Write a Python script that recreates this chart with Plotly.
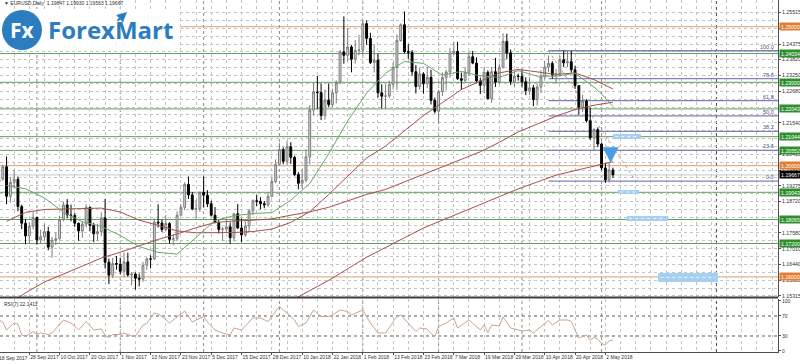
import plotly.graph_objects as go
import pandas as pd

# ---------------- data ----------------
holidays = ["2017-12-25", "2018-01-01"]
dates = [d.strftime("%Y-%m-%d") for d in pd.bdate_range("2017-09-14", "2018-05-04")
         if d.strftime("%Y-%m-%d") not in holidays]

opens = [1.1885, 1.1922, 1.1942, 1.1952, 1.1996, 1.1890, 1.1940, 1.1951, 1.1853, 1.1793,
         1.1747, 1.1783, 1.1814, 1.1733, 1.1744, 1.1763, 1.1707, 1.1732, 1.1737, 1.1807,
         1.1859, 1.1823, 1.1821, 1.1793, 1.1765, 1.1790, 1.1850, 1.1785, 1.1755, 1.1763,
         1.1812, 1.1653, 1.1606, 1.1648, 1.1646, 1.1620, 1.1654, 1.1607, 1.1610, 1.1595,
         1.1592, 1.1642, 1.1665, 1.1664, 1.1797, 1.1794, 1.1770, 1.1792, 1.1735, 1.1737,
         1.1822, 1.1850, 1.1933, 1.1895, 1.1844, 1.1845, 1.1904, 1.1894, 1.1863, 1.1822,
         1.1795, 1.1771, 1.1772, 1.1780, 1.1741, 1.1827, 1.1776, 1.1751, 1.1783, 1.1837,
         1.1874, 1.1872, 1.1863, 1.1859, 1.1890, 1.1943, 1.2005, 1.2058, 1.2016, 1.2068,
         1.2030, 1.1968, 1.1937, 1.1948, 1.2032, 1.2200, 1.2265, 1.2263, 1.2180, 1.2236,
         1.2220, 1.2262, 1.2299, 1.2409, 1.2397, 1.2427, 1.2383, 1.2414, 1.2416, 1.2511,
         1.2458, 1.2371, 1.2380, 1.2262, 1.2250, 1.2251, 1.2293, 1.2353, 1.2450, 1.2507,
         1.2410, 1.2408, 1.2338, 1.2285, 1.2330, 1.2295, 1.2318, 1.2235, 1.2196, 1.2266,
         1.2317, 1.2337, 1.2405, 1.2411, 1.2313, 1.2307, 1.2336, 1.2392, 1.2369, 1.2305,
         1.2289, 1.2336, 1.2241, 1.2338, 1.2301, 1.2354, 1.2447, 1.2406, 1.2303, 1.2322,
         1.2321, 1.2302, 1.2270, 1.2280, 1.2238, 1.2283, 1.2320, 1.2355, 1.2368, 1.2326,
         1.2330, 1.2381, 1.2370, 1.2374, 1.2345, 1.2288, 1.2210, 1.2233, 1.2162, 1.2100,
         1.2130, 1.2078, 1.1992, 1.1949, 1.19847]
highs = [1.1989, 1.1975, 1.1967, 1.2003, 1.2033, 1.1960, 1.1985, 1.1961, 1.1860, 1.1808,
         1.1795, 1.1833, 1.1817, 1.1770, 1.1792, 1.1780, 1.1744, 1.1760, 1.1820, 1.1871,
         1.1880, 1.1860, 1.1830, 1.1795, 1.1800, 1.1861, 1.1853, 1.1795, 1.1791, 1.1832,
         1.1880, 1.1666, 1.1668, 1.1675, 1.1669, 1.1688, 1.1687, 1.1617, 1.1616, 1.1612,
         1.1654, 1.1670, 1.1678, 1.1810, 1.1861, 1.1806, 1.1822, 1.1797, 1.1753, 1.1836,
         1.1861, 1.1940, 1.1961, 1.1905, 1.1877, 1.1907, 1.1961, 1.1912, 1.1874, 1.1851,
         1.1806, 1.1780, 1.1807, 1.1796, 1.1830, 1.1862, 1.1810, 1.1800, 1.1844, 1.1879,
         1.1895, 1.1887, 1.1873, 1.1905, 1.1957, 1.2023, 1.2082, 1.2066, 1.2089, 1.2085,
         1.2036, 1.1977, 1.1989, 1.2058, 1.2218, 1.2297, 1.2323, 1.2296, 1.2274, 1.2296,
         1.2277, 1.2307, 1.2416, 1.2537, 1.2495, 1.2434, 1.2452, 1.2471, 1.2524, 1.2522,
         1.2478, 1.2435, 1.2402, 1.2293, 1.2293, 1.2306, 1.2372, 1.2472, 1.2512, 1.2555,
         1.2437, 1.2416, 1.2362, 1.2353, 1.2336, 1.2355, 1.2345, 1.2245, 1.2273, 1.2336,
         1.2345, 1.2424, 1.2446, 1.2445, 1.2335, 1.2355, 1.2409, 1.2413, 1.2390, 1.2317,
         1.2353, 1.2343, 1.2355, 1.2388, 1.2367, 1.2476, 1.2475, 1.2418, 1.2339, 1.2331,
         1.2345, 1.2318, 1.2318, 1.2291, 1.2295, 1.2343, 1.2376, 1.2396, 1.2376, 1.2348,
         1.2396, 1.2414, 1.2412, 1.2413, 1.2360, 1.2289, 1.2255, 1.2240, 1.2209, 1.2136,
         1.2138, 1.2083, 1.2010, 1.2012, 1.19930]
lows = [1.1838, 1.1880, 1.1922, 1.1946, 1.1861, 1.1867, 1.1919, 1.1836, 1.1772, 1.1717,
        1.1722, 1.1771, 1.1716, 1.1718, 1.1732, 1.1696, 1.1669, 1.1715, 1.1733, 1.1800,
        1.1811, 1.1800, 1.1780, 1.1730, 1.1741, 1.1778, 1.1764, 1.1725, 1.1729, 1.1747,
        1.1630, 1.1574, 1.1596, 1.1626, 1.1609, 1.1600, 1.1601, 1.1569, 1.1554, 1.1566,
        1.1582, 1.1625, 1.1631, 1.1662, 1.1778, 1.1761, 1.1763, 1.1720, 1.1714, 1.1730,
        1.1820, 1.1840, 1.1880, 1.1840, 1.1810, 1.1834, 1.1851, 1.1851, 1.1818, 1.1794,
        1.1756, 1.1729, 1.1762, 1.1718, 1.1728, 1.1773, 1.1725, 1.1744, 1.1762, 1.1822,
        1.1855, 1.1843, 1.1847, 1.1851, 1.1886, 1.1937, 1.2001, 1.2005, 1.2004, 1.2007,
        1.1962, 1.1915, 1.1917, 1.1940, 1.2005, 1.2180, 1.2204, 1.2164, 1.2165, 1.2210,
        1.2210, 1.2224, 1.2293, 1.2367, 1.2376, 1.2336, 1.2367, 1.2397, 1.2397, 1.2435,
        1.2366, 1.2335, 1.2245, 1.2206, 1.2206, 1.2243, 1.2275, 1.2272, 1.2446, 1.2404,
        1.2384, 1.2323, 1.2260, 1.2274, 1.2259, 1.2279, 1.2220, 1.2188, 1.2154, 1.2251,
        1.2272, 1.2316, 1.2397, 1.2308, 1.2274, 1.2298, 1.2322, 1.2365, 1.2300, 1.2258,
        1.2261, 1.2239, 1.2226, 1.2283, 1.2297, 1.2350, 1.2384, 1.2291, 1.2282, 1.2306,
        1.2285, 1.2254, 1.2255, 1.2214, 1.2216, 1.2261, 1.2310, 1.2338, 1.2313, 1.2294,
        1.2320, 1.2355, 1.2354, 1.2334, 1.2276, 1.2183, 1.2193, 1.2155, 1.2093, 1.2055,
        1.2067, 1.1984, 1.1938, 1.1939, 1.19563]
closes = [1.1922, 1.1942, 1.1952, 1.1996, 1.1890, 1.1940, 1.1951, 1.1853, 1.1793, 1.1747,
          1.1783, 1.1814, 1.1733, 1.1744, 1.1763, 1.1707, 1.1732, 1.1737, 1.1807, 1.1859,
          1.1823, 1.1821, 1.1793, 1.1765, 1.1790, 1.1850, 1.1785, 1.1755, 1.1763, 1.1812,
          1.1653, 1.1606, 1.1648, 1.1646, 1.1620, 1.1654, 1.1607, 1.1610, 1.1595, 1.1592,
          1.1642, 1.1665, 1.1664, 1.1797, 1.1794, 1.1770, 1.1792, 1.1735, 1.1737, 1.1822,
          1.1850, 1.1933, 1.1895, 1.1844, 1.1845, 1.1904, 1.1894, 1.1863, 1.1822, 1.1795,
          1.1771, 1.1772, 1.1780, 1.1741, 1.1827, 1.1776, 1.1751, 1.1783, 1.1837, 1.1874,
          1.1872, 1.1863, 1.1859, 1.1890, 1.1943, 1.2005, 1.2058, 1.2016, 1.2068, 1.2030,
          1.1968, 1.1937, 1.1948, 1.2032, 1.2200, 1.2265, 1.2263, 1.2180, 1.2236, 1.2220,
          1.2262, 1.2299, 1.2409, 1.2397, 1.2427, 1.2383, 1.2414, 1.2416, 1.2511, 1.2458,
          1.2371, 1.2380, 1.2262, 1.2250, 1.2251, 1.2293, 1.2353, 1.2450, 1.2507, 1.2410,
          1.2408, 1.2338, 1.2285, 1.2330, 1.2295, 1.2318, 1.2235, 1.2196, 1.2266, 1.2317,
          1.2337, 1.2405, 1.2411, 1.2313, 1.2307, 1.2336, 1.2392, 1.2369, 1.2305, 1.2289,
          1.2336, 1.2241, 1.2338, 1.2301, 1.2354, 1.2447, 1.2406, 1.2303, 1.2322, 1.2321,
          1.2302, 1.2270, 1.2280, 1.2238, 1.2283, 1.2320, 1.2355, 1.2368, 1.2326, 1.2330,
          1.2381, 1.2370, 1.2374, 1.2345, 1.2288, 1.2210, 1.2233, 1.2162, 1.2100, 1.2130,
          1.2078, 1.1992, 1.1949, 1.1985, 1.19667]

# moving averages
ma20_dates = ["2017-09-20", "2017-09-27", "2017-10-04", "2017-10-11", "2017-10-18", "2017-10-25",
              "2017-11-01", "2017-11-08", "2017-11-15", "2017-11-22", "2017-11-29", "2017-12-06",
              "2017-12-13", "2017-12-20", "2017-12-28", "2018-01-05", "2018-01-12", "2018-01-19",
              "2018-01-26", "2018-02-02", "2018-02-09", "2018-02-16", "2018-02-23", "2018-03-02",
              "2018-03-09", "2018-03-16", "2018-03-23", "2018-03-30", "2018-04-06", "2018-04-13",
              "2018-04-20", "2018-04-25", "2018-04-27", "2018-05-01", "2018-05-04"]
ma20_vals = [1.1929, 1.1917, 1.1884, 1.1833, 1.1798, 1.1782, 1.1749, 1.1709, 1.1688, 1.1682,
             1.1742, 1.1803, 1.1820, 1.1828, 1.1831, 1.1876, 1.1936, 1.2043, 1.2161, 1.2261,
             1.2333, 1.2375, 1.2368, 1.2326, 1.2339, 1.2323, 1.2318, 1.2342, 1.2322, 1.2322,
             1.2332, 1.2304, 1.2283, 1.2258, 1.2213]
ma_dates = ["2017-09-20", "2017-09-27", "2017-10-04", "2017-10-11", "2017-10-18", "2017-10-25",
            "2017-11-01", "2017-11-08", "2017-11-15", "2017-11-22", "2017-11-29", "2017-12-06",
            "2017-12-13", "2017-12-20", "2017-12-28", "2018-01-05", "2018-01-12", "2018-01-19",
            "2018-01-26", "2018-02-02", "2018-02-09", "2018-02-16", "2018-02-23", "2018-03-02",
            "2018-03-09", "2018-03-16", "2018-03-23", "2018-03-30", "2018-04-06", "2018-04-13",
            "2018-04-20", "2018-04-27", "2018-05-04"]
ma50_vals = [1.1800, 1.1832, 1.18425, 1.18443, 1.1846, 1.18474, 1.18336, 1.18041, 1.17855, 1.17654,
             1.17587, 1.17586, 1.17596, 1.17632, 1.1772, 1.1796, 1.18344, 1.18965, 1.1961, 1.20277,
             1.20706, 1.21253, 1.21806, 1.22268, 1.22738, 1.2304, 1.23337, 1.23464, 1.2338, 1.23284,
             1.23333, 1.23097, 1.2276]
ma100_vals = [1.14967, 1.15425, 1.15817, 1.16106, 1.16408, 1.16676, 1.1689, 1.17117, 1.17349, 1.17542,
              1.17769, 1.17955, 1.18011, 1.18038, 1.18088, 1.18218, 1.1834, 1.18503, 1.18734, 1.18965,
              1.19147, 1.19419, 1.19701, 1.1995, 1.20228, 1.20501, 1.2084, 1.21215, 1.21496, 1.2178,
              1.2202, 1.22175, 1.22283]
ma200_dates = ["2017-12-20", "2018-01-05", "2018-01-19", "2018-02-02", "2018-02-23", "2018-03-09",
               "2018-03-30", "2018-04-13", "2018-05-04"]
ma200_vals = [1.1455, 1.15137, 1.15876, 1.16706, 1.1776, 1.18318, 1.19166, 1.19661, 1.20147]

# RSI(7)
rsi_dates = ["2017-09-18", "2017-09-19", "2017-09-20", "2017-09-22", "2017-09-25", "2017-09-26",
             "2017-09-27", "2017-09-29", "2017-10-02", "2017-10-03", "2017-10-05", "2017-10-06",
             "2017-10-11", "2017-10-13", "2017-10-17", "2017-10-19", "2017-10-23", "2017-10-25",
             "2017-10-26", "2017-10-27", "2017-10-30", "2017-11-01", "2017-11-02", "2017-11-06",
             "2017-11-07", "2017-11-09", "2017-11-10", "2017-11-14", "2017-11-15", "2017-11-16",
             "2017-11-20", "2017-11-24", "2017-11-28", "2017-12-01", "2017-12-04", "2017-12-06",
             "2017-12-08", "2017-12-12", "2017-12-13", "2017-12-15", "2017-12-20", "2017-12-22",
             "2017-12-27", "2018-01-02", "2018-01-04", "2018-01-08", "2018-01-09", "2018-01-11",
             "2018-01-15", "2018-01-17", "2018-01-19", "2018-01-22", "2018-01-24", "2018-01-26",
             "2018-01-29", "2018-02-01", "2018-02-05", "2018-02-07", "2018-02-09", "2018-02-14",
             "2018-02-15", "2018-02-19", "2018-02-21", "2018-02-22", "2018-02-26", "2018-02-27",
             "2018-02-28", "2018-03-01", "2018-03-05", "2018-03-07", "2018-03-08", "2018-03-13",
             "2018-03-16", "2018-03-19", "2018-03-20", "2018-03-21", "2018-03-23", "2018-03-26",
             "2018-03-28", "2018-03-30", "2018-04-02", "2018-04-04", "2018-04-05", "2018-04-09",
             "2018-04-11", "2018-04-12", "2018-04-16", "2018-04-18", "2018-04-19", "2018-04-23",
             "2018-04-25", "2018-04-26", "2018-04-27", "2018-04-30", "2018-05-01", "2018-05-02",
             "2018-05-03", "2018-05-04"]
rsi_vals = [62, 58, 42, 56, 54, 32, 29, 39, 33, 36, 33, 36,
            62, 56, 42, 59, 42, 44, 31, 27, 33, 33, 36, 30,
            30, 52, 55, 76, 74, 69, 56, 80, 58, 69, 58, 42,
            36, 32, 46, 42, 66, 66, 59, 89, 76, 62, 49, 56,
            82, 69, 69, 72, 82, 79, 72, 82, 56, 36, 36, 69,
            72, 56, 39, 46, 44, 35, 29, 49, 56, 66, 46, 62,
            42, 52, 37, 52, 50, 68, 46, 42, 40, 42, 36, 49,
            61, 52, 62, 62, 59, 26, 32, 22, 27, 24, 15, 12,
            20, 22]

label_dates = ["2017-09-18", "2017-09-28", "2017-10-10", "2017-10-20", "2017-11-01", "2017-11-13",
               "2017-11-23", "2017-12-05", "2017-12-15", "2017-12-28", "2018-01-10", "2018-01-22",
               "2018-02-01", "2018-02-13", "2018-02-23", "2018-03-07", "2018-03-19", "2018-03-29",
               "2018-04-10", "2018-04-20", "2018-05-02"]
month_starts = ["2017-10-02", "2017-11-01", "2017-12-01", "2018-01-02", "2018-02-01",
                "2018-03-01", "2018-04-02", "2018-05-01"]

# price scale labels (the ones hidden behind level boxes in the original are omitted)
price_ticks = [1.25515, 1.24945, 1.24375, 1.23820, 1.23250, 1.22680, 1.21540,
               1.20415, 1.19845, 1.19275, 1.18720, 1.17580, 1.17010, 1.16440, 1.15885, 1.15315]
grid_prices = [1.25515, 1.24945, 1.24375, 1.23820, 1.23250, 1.22680, 1.22110, 1.21540, 1.20985,
               1.20415, 1.19845, 1.19275, 1.18720, 1.18150, 1.17580, 1.17010, 1.16440, 1.15885, 1.15315]
green_levels = [1.24034, 1.23000, 1.22043, 1.21044, 1.20552, 1.19043, 1.18065, 1.17200]
orange_levels = [1.25000, 1.20000, 1.16000]
fib_high, fib_low = 1.24135, 1.19445
fib_ratios = [1.0, 0.786, 0.618, 0.5, 0.382, 0.236, 0.0]
fib_names = ["100.0", "78.6", "61.8", "50.0", "38.2", "23.6", "0.0"]
fib_start_date = "2018-04-11"
fib_end_bars_ahead = 6
last_price = closes[-1]
header = "EURUSD,Daily  1.19847 1.19930 1.19563 1.19667"

# ---------------- figure ----------------
pos = {d: i for i, d in enumerate(dates)}
xi = list(range(len(dates)))
n = len(dates)
FONT = "Liberation Sans"
GRID = "#c4c4c4"
MA_RED = "#a5514c"
GREEN = "#5c9f5c"
ORANGE = "#d6a173"
FIB = "#8282b4"

xr = [2.27, 207.55]
yr = [1.15277, 1.25960]

fig = go.Figure()
fig.add_trace(go.Candlestick(
    x=xi, open=opens, high=highs, low=lows, close=closes, xaxis="x", yaxis="y",
    increasing=dict(line=dict(color="#7c7c7c", width=1), fillcolor="#d6d6d6"),
    decreasing=dict(line=dict(color="#000000", width=1), fillcolor="#000000"),
    whiskerwidth=0, hoverinfo="skip", showlegend=False))

for dlist, vals, col in [(ma_dates, ma100_vals, MA_RED), (ma200_dates, ma200_vals, MA_RED),
                         (ma_dates, ma50_vals, MA_RED), (ma20_dates, ma20_vals, "#66a866")]:
    fig.add_trace(go.Scatter(x=[pos[d] for d in dlist], y=vals, mode="lines",
                             line=dict(color=col, width=1), xaxis="x", yaxis="y",
                             hoverinfo="skip", showlegend=False))

fig.add_trace(go.Scatter(x=[pos[d] for d in rsi_dates], y=rsi_vals, mode="lines",
                         line=dict(color="#c9a58e", width=1), xaxis="x2", yaxis="y2",
                         hoverinfo="skip", showlegend=False))

shapes = []
annos = []

# month separators and vertical marker
for d in month_starts:
    shapes.append(dict(type="line", xref="x", yref="paper", x0=pos[d], x1=pos[d], y0=0, y1=1,
                       line=dict(color="#8c8c8c", width=1, dash="dot"), layer="between"))
vx = n - 1 + 27.3
shapes.append(dict(type="line", xref="x", yref="paper", x0=vx, x1=vx, y0=0, y1=1,
                   line=dict(color="#4a4a4a", width=1, dash="dot"), layer="between"))

# horizontal levels
for v in orange_levels:
    shapes.append(dict(type="line", xref="paper", yref="y", x0=0, x1=1, y0=v, y1=v,
                       line=dict(color=ORANGE, width=1), layer="between"))
for v in green_levels:
    shapes.append(dict(type="line", xref="paper", yref="y", x0=0, x1=1, y0=v, y1=v,
                       line=dict(color=GREEN, width=1), layer="between"))
shapes.append(dict(type="line", xref="paper", yref="y", x0=0, x1=1, y0=last_price, y1=last_price,
                   line=dict(color="#c8c8c8", width=1), layer="between"))

# fibonacci
fx0 = pos[fib_start_date]
for r, name in zip(fib_ratios, fib_names):
    lv = fib_low + r * (fib_high - fib_low)
    shapes.append(dict(type="line", xref="x", yref="y", x0=fx0, x1=xr[1], y0=lv, y1=lv,
                       line=dict(color=FIB, width=1.3), layer="between"))
    annos.append(dict(xref="paper", yref="y", x=1, y=lv, text=name, showarrow=False,
                      xanchor="right", yanchor="bottom", xshift=-2, yshift=-1,
                      font=dict(family=FONT, size=5.5, color="#55558a")))
shapes.append(dict(type="line", xref="x", yref="y", x0=fx0, x1=n - 1 + fib_end_bars_ahead,
                   y0=fib_high, y1=fib_low, line=dict(color="#c49090", width=1, dash="dot"),
                   layer="between"))

# RSI 70 / 30 levels
for v in [70, 30]:
    shapes.append(dict(type="line", xref="paper", yref="y2", x0=0, x1=1, y0=v, y1=v,
                       line=dict(color="#5a5a5a", width=1, dash="dot"), layer="between"))

# panel separator
shapes.append(dict(type="line", xref="paper", yref="paper", x0=0, x1=1, y0=0.1548, y1=0.1548,
                   line=dict(color="#3c3c3c", width=2), layer="above"))

# blurred blue text objects
for (a, b, y0, y1) in [(n - 1 + 0.0, n - 1 + 7.4, 1.20960, 1.21140),
                       (n - 1 + 1.3, n - 1 + 6.9, 1.18982, 1.19126),
                       (n - 1 + 3.7, n - 1 + 14.5, 1.18010, 1.18191),
                       (n - 1 + 11.9, n - 1 + 27.7, 1.15820, 1.16140)]:
    shapes.append(dict(type="rect", xref="x", yref="y", x0=a, x1=b, y0=y0, y1=y1,
                       fillcolor="#a6cff2", line=dict(width=0), layer="above"))
    shapes.append(dict(type="line", xref="x", yref="y", x0=a + 0.6, x1=b - 0.6,
                       y0=(y0 + y1) / 2, y1=(y0 + y1) / 2,
                       line=dict(color="#e8f3fd", width=1, dash="dot"), layer="above"))

# logo background and circle
shapes.append(dict(type="rect", xref="paper", yref="paper", x0=0, x1=180 / 778,
                   y0=(352 - 51) / 352, y1=(352 - 9) / 352, fillcolor="white",
                   line=dict(width=0), layer="above"))
shapes.append(dict(type="circle", xref="paper", yref="paper", x0=2 / 778, x1=42 / 778,
                   y0=(352 - 50) / 352, y1=(352 - 10) / 352, fillcolor="#2c7cc0",
                   line=dict(width=0), layer="above"))

# right-side price boxes
for v in green_levels:
    annos.append(dict(xref="paper", yref="y", x=1, y=v, text=f"{v:.5f}", showarrow=False,
                      xanchor="left", xshift=1, bgcolor="#2f8f2f", width=20, height=6,
                      borderpad=0.5, font=dict(family=FONT, size=5.2, color="white")))
for v in orange_levels:
    annos.append(dict(xref="paper", yref="y", x=1, y=v, text=f"{v:.5f}", showarrow=False,
                      xanchor="left", xshift=1, bgcolor="#e47c33", width=20, height=6,
                      borderpad=0.5, font=dict(family=FONT, size=5.2, color="white")))
annos.append(dict(xref="paper", yref="y", x=1, y=last_price, text=f"{last_price:.5f}",
                  showarrow=False, xanchor="left", xshift=1, bgcolor="#000000", width=20,
                  height=6, borderpad=0.5, font=dict(family=FONT, size=5.2, color="white")))

# texts
annos.append(dict(xref="paper", yref="paper", x=0.003, y=(352 - 3) / 352, text="▼ " + header,
                  showarrow=False, xanchor="left", yanchor="middle",
                  font=dict(family=FONT, size=5, color="#303030")))
annos.append(dict(xref="paper", yref="paper", x=0.003, y=(352 - 299) / 352,
                  text="RSI(7) 22.1411", showarrow=False, xanchor="left", yanchor="top",
                  font=dict(family=FONT, size=5, color="#303030")))
annos.append(dict(xref="paper", yref="paper", x=22 / 778, y=(352 - 30) / 352, text="<b>Fx</b>",
                  showarrow=False, xanchor="center", yanchor="middle",
                  font=dict(family="Open Sans", size=21, color="white")))
annos.append(dict(xref="paper", yref="paper", x=46 / 778, y=(352 - 30) / 352, text="<b>ForexMart</b>",
                  showarrow=False, xanchor="left", yanchor="middle",
                  font=dict(family="Open Sans", size=24, color="#2c7cc0")))
annos.append(dict(xref="paper", yref="paper", x=127 / 778, y=(352 - 12) / 352, ax=-11, ay=10,
                  showarrow=True, arrowhead=2, arrowsize=1, arrowwidth=2, arrowcolor="#2c7cc0",
                  text=""))
# blue arrow marker
annos.append(dict(xref="x", yref="y", x=n - 1.6, y=1.20097, ax=0, ay=-11, showarrow=True,
                  arrowhead=2, arrowsize=0.9, arrowwidth=3.5, arrowcolor="#4a9de3", text=""))

ticktext = [pd.Timestamp(d).strftime("%-d %b %Y") for d in label_dates]
tickvals = [pos[d] for d in label_dates]
mid_ticks = [(a + b) / 2 for a, b in zip(grid_prices[:-1], grid_prices[1:])]
hidden_grid = [v for v in grid_prices if v not in price_ticks]

# the first date label sits just left of the visible range: draw it as a clipped text
first_px = (tickvals[0] - xr[0]) / (xr[1] - xr[0])
annos.append(dict(xref="paper", yref="paper", x=first_px, y=0, yshift=-1, text=ticktext[0],
                  showarrow=False, xanchor="left", yanchor="top", xshift=-2,
                  font=dict(family=FONT, size=5, color="#303030")))

xcommon = dict(range=xr, tickmode="array", tickvals=tickvals, showgrid=True, gridcolor=GRID,
               griddash="dot", gridwidth=1, zeroline=False, automargin=False,
               minor=dict(tick0=tickvals[0], dtick=4, showgrid=True, gridcolor=GRID,
                          griddash="dot", ticks=""))

fig.update_layout(
    width=800, height=364, margin=dict(l=0, r=22, t=0, b=12, autoexpand=False),
    paper_bgcolor="white", plot_bgcolor="white", showlegend=False,
    xaxis=dict(domain=[0, 1], anchor="y", showticklabels=False, rangeslider=dict(visible=False),
               **xcommon),
    xaxis2=dict(domain=[0, 1], anchor="y2", matches="x", ticktext=ticktext, ticks="outside",
                ticklen=2, tickcolor="#505050", ticklabelposition="outside right", tickangle=0,
                tickfont=dict(family=FONT, size=5, color="#303030"), showline=True,
                linecolor="#505050", linewidth=1, **xcommon),
    yaxis=dict(domain=[0.15625, 1], anchor="x", side="right", range=yr, tickmode="array",
               tickvals=price_ticks, ticktext=[f"{v:.5f}" for v in price_ticks],
               ticks="outside", ticklen=2, tickcolor="#505050", automargin=False,
               tickfont=dict(family=FONT, size=5.2, color="#303030"),
               showgrid=True, gridcolor=GRID, griddash="dot", zeroline=False,
               minor=dict(tickvals=mid_ticks + hidden_grid, showgrid=True, gridcolor=GRID,
                          griddash="dot", ticks=""),
               showline=True, linecolor="#505050", linewidth=1),
    yaxis2=dict(domain=[0, 0.1506], anchor="x2", side="right", range=[-2, 104],
                tickmode="array", tickvals=[0, 30, 70, 100], ticktext=["0", "30", "70", "100"],
                ticks="outside", ticklen=2, tickcolor="#505050", automargin=False,
                tickfont=dict(family=FONT, size=5, color="#303030"),
                showgrid=False, zeroline=False, showline=True, linecolor="#505050", linewidth=1),
    shapes=shapes, annotations=annos,
)

fig.write_html("out.html", config={"displayModeBar": False},
               post_script="document.body.style.margin='0';document.body.style.overflow='hidden';")
